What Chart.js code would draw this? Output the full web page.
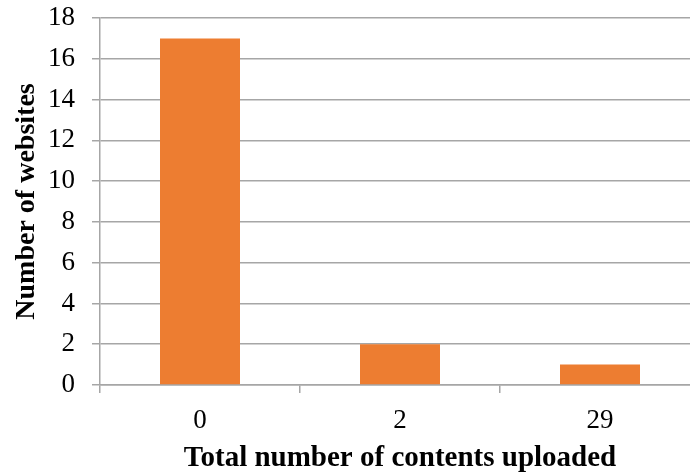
<!DOCTYPE html>
<html>
<head>
<meta charset="utf-8">
<script src="https://cdn.jsdelivr.net/npm/chart.js@4"></script>
<style>
  html, body { margin: 0; padding: 0; background: #fff; overflow: hidden; }
  #wrap { width: 690px; height: 474px; overflow: hidden; }
  #wrap div { width: 710px; height: 474px; position: relative; }
</style>
</head>
<body>
<div id="wrap"><div><canvas id="barChart"></canvas></div></div>
<script>
var categories = ["0", "2", "29"]
var websites = [17, 2, 1]
var yTicks = [0, 2, 4, 6, 8, 10, 12, 14, 16, 18]

var serif = "'Liberation Serif', 'DejaVu Serif', serif"
var gridColor = "#a6a6a6"

var ctx = document.getElementById("barChart")
var chart_bar = new Chart(ctx, {
  type: "bar",
  data: {
    labels: categories,
    datasets: [
      {
        label: "Number of websites",
        data: websites,
        backgroundColor: "#ED7D31",
        borderWidth: 0,
        categoryPercentage: 1,
        barPercentage: 0.4,
      },
    ],
  },
  options: {
    responsive: true,
    maintainAspectRatio: false,
    animation: false,
    layout: { padding: { left: 0, right: 10, top: 18, bottom: 0 } },
    plugins: {
      legend: { display: false },
      tooltip: { enabled: false },
    },
    scales: {
      y: {
        min: yTicks[0],
        max: yTicks[yTicks.length - 1],
        afterBuildTicks: function (scale) {
          scale.ticks = yTicks.map(function (v) { return { value: v } })
        },
        afterFit: function (scale) {
          scale.width = 100
          scale.paddingTop = 0
          scale.paddingBottom = 0
        },
        border: { display: true, color: gridColor, width: 1.5 },
        grid: { color: gridColor, lineWidth: 1.5, tickLength: 8 },
        ticks: {
          color: "#000",
          padding: 17,
          font: { family: serif, size: 27 },
        },
        title: {
          display: true,
          text: "Number of websites",
          color: "#000",
          padding: { top: 10, bottom: 4 },
          font: { family: serif, size: 28, weight: "bold" },
        },
      },
      x: {
        afterFit: function (scale) { scale.height = 89 },
        border: { display: true, color: gridColor, width: 1.5 },
        grid: {
          offset: true,
          drawOnChartArea: false,
          color: gridColor,
          lineWidth: 1.5,
          tickLength: 8,
        },
        ticks: {
          color: "#000",
          padding: 12,
          font: { family: serif, size: 27 },
        },
        title: {
          display: true,
          text: "Total number of contents uploaded",
          color: "#000",
          padding: { top: 6, bottom: -2 },
          font: { family: serif, size: 29, weight: "bold" },
        },
      },
    },
  },
})
</script>
</body>
</html>
